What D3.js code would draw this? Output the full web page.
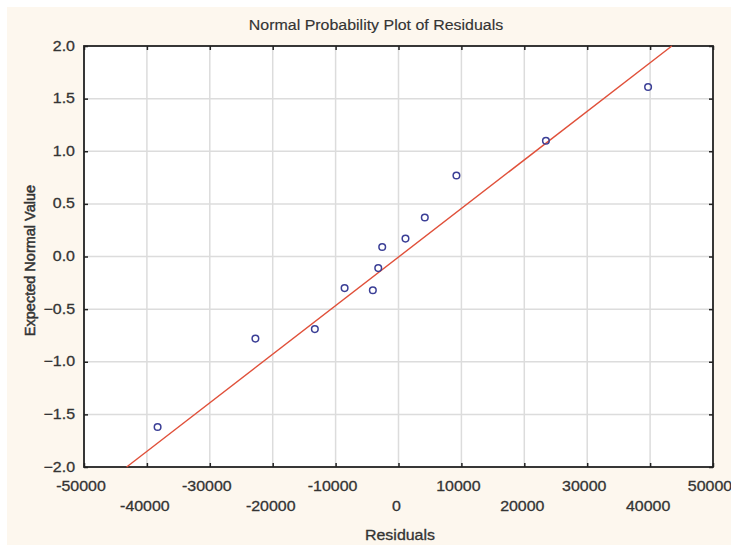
<!DOCTYPE html>
<html>
<head>
<meta charset="utf-8">
<script src="https://cdn.jsdelivr.net/npm/d3@7"></script>
<style>
  html, body { margin: 0; padding: 0; background: #ffffff; }
  svg { display: block; }
  text { font-family: "Liberation Sans", Arial, sans-serif; }
</style>
</head>
<body>
<svg id="chart" width="731" height="545"></svg>
<script>
// ---- data ----
const residuals = [-38300, -22750, -13300, -8570, -4080, -3220, -2590, 1110, 4180, 9210, 23440, 39680];
const expectedNormal = [-1.62, -0.78, -0.69, -0.30, -0.32, -0.11, 0.09, 0.17, 0.37, 0.77, 1.10, 1.61];
const fitLineX = [-43220, 43450];
const fitLineY = [-2.0, 2.0];
const xTicksRow1 = [-50000, -30000, -10000, 10000, 30000, 50000];
const xTicksRow2 = [-40000, -20000, 0, 20000, 40000];
const yTicks = [-2.0, -1.5, -1.0, -0.5, 0.0, 0.5, 1.0, 1.5, 2.0];
const titleText = "Normal Probability Plot of Residuals";
const xTitle = "Residuals";
const yTitle = "Expected Normal Value";

// ---- layout ----
const svg = d3.select("#chart");
const L = 84, R = 713, T = 46, B = 467;
const FS = 14.5, SX = 1.1, TXT = "#343434";

svg.append("rect").attr("x", 7).attr("y", 7).attr("width", 724).attr("height", 538).attr("fill", "#fdf7ee");

const x = d3.scaleLinear().domain([-50000, 50000]).range([L, R]);
const y = d3.scaleLinear().domain([-2, 2]).range([B, T]);

svg.append("rect").attr("x", L).attr("y", T).attr("width", R - L).attr("height", B - T).attr("fill", "#ffffff");

const allX = xTicksRow1.concat(xTicksRow2).sort((a, b) => a - b);

// grid
const grid = svg.append("g");
grid.selectAll(".gx").data(allX.filter(v => v > -50000 && v < 50000)).enter().append("line")
  .attr("x1", d => x(d)).attr("x2", d => x(d)).attr("y1", T).attr("y2", B)
  .attr("stroke", "#dcdcdc").attr("stroke-width", 1.5);
grid.selectAll(".gy").data(yTicks.filter(v => v > -2 && v < 2)).enter().append("line")
  .attr("x1", L).attr("x2", R).attr("y1", d => y(d)).attr("y2", d => y(d))
  .attr("stroke", "#dcdcdc").attr("stroke-width", 1.5);

// axes with inward ticks
const tickLen = 4;
const axB = svg.append("g").attr("transform", `translate(0,${B})`)
  .call(d3.axisTop(x).tickValues(allX).tickSize(tickLen).tickFormat(""));
const axT = svg.append("g").attr("transform", `translate(0,${T})`)
  .call(d3.axisBottom(x).tickValues(allX).tickSize(tickLen).tickFormat(""));
const axL = svg.append("g").attr("transform", `translate(${L},0)`)
  .call(d3.axisRight(y).tickValues(yTicks).tickSize(tickLen).tickFormat(""));
const axR = svg.append("g").attr("transform", `translate(${R},0)`)
  .call(d3.axisLeft(y).tickValues(yTicks).tickSize(tickLen).tickFormat(""));
[axB, axT, axL, axR].forEach(a => {
  a.select(".domain").remove();
  a.selectAll(".tick line").attr("stroke", "#222").attr("stroke-width", 1.5);
});
svg.append("rect").attr("x", L).attr("y", T).attr("width", R - L).attr("height", B - T)
  .attr("fill", "none").attr("stroke", "#222").attr("stroke-width", 1.8);

// helper for slightly widened text
function label(g, tx, ty, anchor, str, rot) {
  const t = g.append("text")
    .attr("transform", rot ? `translate(${tx},${ty}) rotate(-90)` : `translate(${tx},${ty}) scale(${SX},1)`)
    .attr("text-anchor", anchor).attr("font-size", FS)
    .style("fill", TXT).style("stroke", TXT).style("stroke-width", 0.3)
    .text(str);
  return t;
}

// tick labels
const fmtY = d3.format(".1f");
const gl = svg.append("g");
yTicks.forEach(d => label(gl, L - 9, y(d) + 4.6, "end", fmtY(d)));
xTicksRow1.forEach(d => label(gl, x(d) - 3, 490.5, "middle", String(d)));
xTicksRow2.forEach(d => label(gl, x(d) - 2, 510.5, "middle", String(d)));

// titles
label(svg, 376, 30, "middle", titleText).style("stroke-width", 0.15);
label(svg, 400, 540, "middle", xTitle);
label(svg, 34.5, (T + B) / 2 + 4, "middle", yTitle, true).style("stroke-width", 0.5);

// fit line
const fit = fitLineX.map((v, i) => [v, fitLineY[i]]);
svg.append("path").datum(fit)
  .attr("d", d3.line().x(d => x(d[0])).y(d => y(d[1])))
  .attr("stroke", "#e0503a").attr("stroke-width", 1.4).attr("fill", "none");

// points
svg.append("g").selectAll("circle").data(residuals.map((v, i) => [v, expectedNormal[i]])).enter()
  .append("circle")
  .attr("cx", d => x(d[0])).attr("cy", d => y(d[1])).attr("r", 3.3)
  .attr("fill", "none").attr("stroke", "#3b3f96").attr("stroke-width", 1.5);
</script>
</body>
</html>
